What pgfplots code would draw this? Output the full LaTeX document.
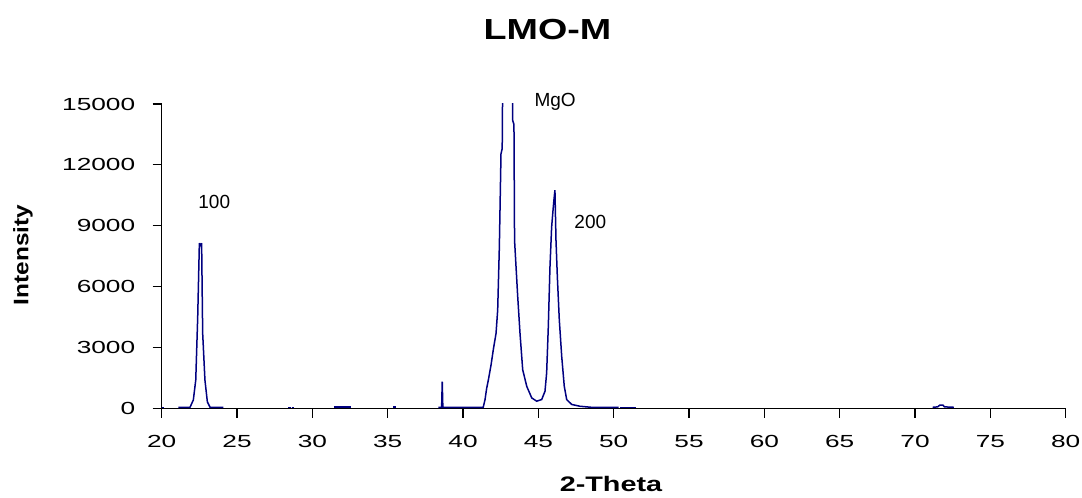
\documentclass[border=0pt]{standalone}
\usepackage{pgfplots}
\pgfplotsset{compat=1.18}
\usepackage{fontspec}
\setmainfont{Liberation Sans}
\definecolor{navyline}{RGB}{0,0,128}
\tikzset{spec/.style={color=navyline, solid, line width=1.5pt, mark=none, line join=miter, miter limit=2}}
\begin{document}
\begin{tikzpicture}
\begin{axis}[name=ax, scale only axis, width=904pt, height=304.5pt,
 xmin=20, xmax=80, ymin=0, ymax=15000,
 axis x line*=bottom, axis y line*=left,
 xtick={20,25,...,80}, ytick={0,3000,...,15000},
 tick align=outside, major tick length=9pt,
 tick style={black, line width=1.2pt},
 axis line style={black, line width=1.2pt},
 scaled y ticks=false,
 /pgf/number format/set thousands separator={},
 /pgf/number format/assume math mode=true,
 tick label style={font=\fontsize{17.5}{20}\selectfont},
 xticklabel={\scalebox{1.5}[1]{\pgfmathprintnumber{\tick}}},
 yticklabel={\scalebox{1.5}[1]{\pgfmathprintnumber{\tick}}},
 yticklabel style={xshift=-14pt},
 xticklabel style={yshift=-14pt},
 clip mode=individual,
]
\addplot[spec] table {
20.00 50
20.15 50
};
\addplot[spec] table {
21.10 50
21.88 60
22.10 420
22.26 1400
22.39 4500
22.50 8140
22.58 8050
22.65 8140
22.72 3700
22.87 1400
23.03 330
23.21 60
24.09 50
};
\addplot[spec] table {
28.40 60
28.55 60
};
\addplot[spec] table {
28.63 60
28.78 60
};
\addplot[spec] table {
31.46 80
32.56 80
};
\addplot[spec] table {
35.37 70
35.55 70
};
\addplot[spec] table {
38.36 60
38.58 60
38.62 1320
38.66 60
41.34 60
41.46 440
41.57 1000
41.68 1400
41.86 2150
42.01 2900
42.19 3700
42.30 4850
42.41 7950
42.52 12550
42.60 12800
42.63 16000
42.75 25000
43.15 25000
43.27 16000
43.30 14170
43.38 14000
43.42 8280
43.63 5500
43.78 3720
43.96 1910
44.23 1090
44.56 520
44.89 360
45.22 440
45.44 850
45.55 1760
45.66 4030
45.77 6970
45.88 8930
45.99 9920
46.05 10400
46.10 10750
46.17 8280
46.26 6480
46.39 4360
46.55 2560
46.72 1090
46.88 440
47.21 200
47.76 110
48.50 60
50.33 60
};
\addplot[spec] table {
50.42 60
51.50 60
};
\addplot[spec] table {
71.17 60
71.50 80
71.65 170
71.85 170
71.95 80
72.58 60
};
\node[anchor=base, font=\fontsize{19}{20}\selectfont] at (axis cs:23.49,9862) {100};
\node[anchor=base, font=\fontsize{19}{20}\selectfont] at (axis cs:46.11,14867) {MgO};
\node[anchor=base, font=\fontsize{19}{20}\selectfont] at (axis cs:48.45,8877) {200};
\node[anchor=base, font=\fontsize{29}{30}\selectfont\bfseries] at (axis description cs:0.4268,1.2125) {\scalebox{1.3}[1]{LMO-M}};
\node[anchor=base, font=\fontsize{21}{23}\selectfont\bfseries] at (axis description cs:0.497,-0.272) {\scalebox{1.37}[1]{2-Theta}};
\node[rotate=90, anchor=base, font=\fontsize{21}{22}\selectfont\bfseries] at (axis description cs:-0.1476,0.504) {\scalebox{1.16}[1]{Intensity}};
\end{axis}
\pgfresetboundingbox
\path[use as bounding box] ([xshift=-161.7pt,yshift=-88.5pt]ax.south west) rectangle ([xshift=16.3pt,yshift=104pt]ax.north east);
\end{tikzpicture}
\end{document}
